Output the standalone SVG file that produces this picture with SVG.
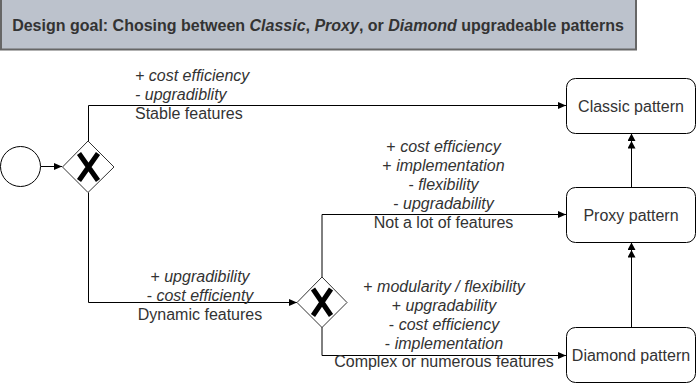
<svg xmlns="http://www.w3.org/2000/svg" width="697" height="384" viewBox="0 0 697 384">
<defs>
<marker id="arr" markerUnits="userSpaceOnUse" markerWidth="10" markerHeight="10" refX="8" refY="4" orient="auto">
<path d="M0,0.5 L8,4 L0,7.5 z" fill="#000"/>
</marker>
<marker id="arr2" markerUnits="userSpaceOnUse" markerWidth="18" markerHeight="10" refX="15" refY="4" orient="auto">
<path d="M0,0 L7.5,4 L0,8 z M7.5,0 L15,4 L7.5,8 z" fill="#000"/>
</marker>
</defs>
<style>
.t{font-family:"Liberation Sans",Arial,sans-serif;font-size:16px;fill:#333}
.i{font-style:italic}
.m{text-anchor:middle}
.box{fill:#fff;stroke:#000;stroke-width:1}
.gw{fill:#fff;stroke:#333;stroke-width:1}
.x{stroke:#000;stroke-width:5;stroke-linecap:butt;fill:none}
.e{fill:none;stroke:#000;stroke-width:1}
</style>
<g id="title">
<rect x="1" y="-1" width="635" height="50.5" fill="#bcc2cc" stroke="#666" stroke-width="2"/>
<text x="318" y="31" class="t m" style="font-weight:bold">Design goal: Chosing between <tspan font-style="italic">Classic</tspan>, <tspan font-style="italic">Proxy</tspan>, or <tspan font-style="italic">Diamond</tspan> upgradeable patterns</text>
</g>
<g id="connectors">
<path class="e" d="M41 166.5 H62" marker-end="url(#arr)"/>
<path class="e" d="M88.5 141.5 V105.5 H566" marker-end="url(#arr)"/>
<path class="e" d="M88.5 192.5 V302.5 H297" marker-end="url(#arr)"/>
<path class="e" d="M322 277 V214.5 H566" marker-end="url(#arr)"/>
<path class="e" d="M322 327 V355.5 H566" marker-end="url(#arr)"/>
<path class="e" d="M631.5 187 V133.5" marker-end="url(#arr2)"/>
<path class="e" d="M631.5 327 V242.5" marker-end="url(#arr2)"/>
</g>
<g id="start">
<circle cx="20.5" cy="166.5" r="20" fill="#fff" stroke="#000"/>
</g>
<g id="gateway1">
<path class="gw" d="M88 141 L114 167 L88 192.5 L62.5 167 z"/>
<path class="x" d="M79 153.5 L98 180.5 M98 153.5 L79 180.5"/>
</g>
<g id="gateway2">
<path class="gw" d="M322 277 L347 302.5 L322 327.5 L297 302.5 z"/>
<path class="x" d="M313 289 L331 315.5 M331 289 L313 315.5"/>
</g>
<g id="classic">
<rect class="box" x="566.5" y="78.5" width="129" height="55" rx="9"/>
<text x="631" y="111.5" class="t m">Classic pattern</text>
</g>
<g id="proxy">
<rect class="box" x="566.5" y="187.5" width="129" height="55" rx="9"/>
<text x="631" y="220.5" class="t m">Proxy pattern</text>
</g>
<g id="diamond">
<rect class="box" x="566.5" y="327.5" width="129" height="55" rx="9"/>
<text x="631" y="360.5" class="t m">Diamond pattern</text>
</g>
<g id="labels">
<text class="t" x="135" y="81"><tspan class="i">+ cost efficiency</tspan><tspan x="135" y="100" class="i">- upgradiblity</tspan><tspan x="135" y="119">Stable features</tspan></text>
<text class="t m" x="443.5" y="152">+ <tspan class="i">cost efficiency</tspan><tspan x="443.5" y="171">+ <tspan class="i">implementation</tspan></tspan><tspan x="443.5" y="190">- <tspan class="i">flexibility</tspan></tspan><tspan x="443.5" y="209">- <tspan class="i">upgradability</tspan></tspan><tspan x="443.5" y="228">Not a lot of features</tspan></text>
<text class="t m" x="200" y="282">+ <tspan class="i">upgradibility</tspan><tspan x="200" y="301">- <tspan class="i">cost efficienty</tspan></tspan><tspan x="200" y="320">Dynamic features</tspan></text>
<text class="t m" x="444" y="292">+ <tspan class="i">modularity / flexibility</tspan><tspan x="444" y="311">+ <tspan class="i">upgradability</tspan></tspan><tspan x="444" y="330">- <tspan class="i">cost efficiency</tspan></tspan><tspan x="444" y="349">- <tspan class="i">implementation</tspan></tspan><tspan x="444" y="367">Complex or numerous features</tspan></text>
</g>
</svg>
